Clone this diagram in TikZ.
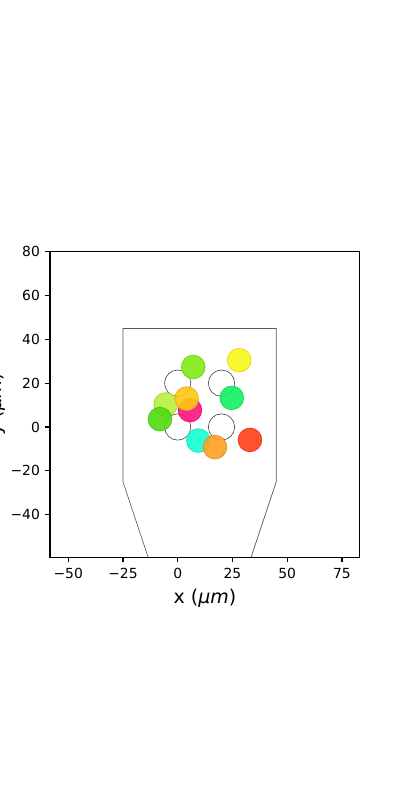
\documentclass[tikz,border=0pt]{standalone}
\usepackage{fontspec}
\setmainfont{DejaVu Sans}
\usetikzlibrary{positioning}

\definecolor{chartr}{HTML}{80EC14}
\definecolor{lemon}{HTML}{F8F81C}
\definecolor{spring}{HTML}{14F064}
\definecolor{lime}{HTML}{B8F040}
\definecolor{gold}{HTML}{FFC814}
\definecolor{rose}{HTML}{FF1480}
\definecolor{leaf}{HTML}{50DC10}
\definecolor{aqua}{HTML}{14FFD4}
\definecolor{amber}{HTML}{FFA020}
\definecolor{flame}{HTML}{FF4018}

\begin{document}
\begin{tikzpicture}[x=1pt, y=1pt,
	ticklbl/.style={font=\fontsize{13.9}{16}\selectfont, inner sep=0pt},
	axlbl/.style={font=\fontsize{19}{22}\selectfont, inner sep=0pt},
	spot/.style={circle, inner sep=0pt, minimum size=23.6pt, fill=#1, draw=#1!90!black, fill opacity=0.9, draw opacity=0.9, line width=0.9pt},
	hole/.style={circle, inner sep=0pt, minimum size=26.3pt, draw=black!75, line width=0.6pt}]
	\useasboundingbox (0,0) rectangle (400,800);
	\begin{scope}[xshift=177.7pt, yshift=373pt, x=2.19pt, y=2.19pt]
		\coordinate (ll) at (-58.3,-59.4);
		\coordinate (ur) at (83.2,80);
		% chamber outline
		\begin{scope}
			\clip (ll) rectangle (ur);
			\draw[black!65, line width=0.7pt] (-10,-70) -- (-25,-25) -- (-25,45) -- (45,45) -- (45,-25) -- (30,-70);
		\end{scope}
		% empty sites
		\node[hole] (h1) at (0,0) {};
		\node[hole] (h2) at (0,20) {};
		\node[hole] (h3) at (20,20) {};
		\node[hole] (h4) at (20,0) {};
		% particles
		\node[spot=lime] (c4) at (-5.5,10.3) {};
		\node[spot=leaf] (c7) at (-8.1,3.6) {};
		\node[spot=rose] (c6) at (5.6,7.7) {};
		\node[spot=gold] (c5) at (4.1,13.0) {};
		\node[spot=chartr] (c1) at (7.1,27.4) {};
		\node[spot=lemon] (c2) at (28.1,30.5) {};
		\node[spot=spring] (c3) at (24.7,13.3) {};
		\node[spot=aqua] (c8) at (9.4,-6.2) {};
		\node[spot=amber] (c9) at (17.0,-9.2) {};
		\node[spot=flame] (c10) at (33.0,-5.9) {};
		% axes
		\draw[line width=1.1pt] (ll) rectangle (ur);
		\foreach \v/\t in {-50/−50, -25/−25, 0/0, 25/25, 50/50, 75/75} {
			\draw[line width=1.1pt] (\v,-59.4) -- ++(0,-4.9pt) coordinate (xt\v);
			\node[ticklbl, anchor=north] (xl\v) at ([yshift=-6pt]xt\v) {\t};
		}
		\foreach \v/\t in {-40/−40, -20/−20, 0/0, 20/20, 40/40, 60/60, 80/80} {
			\draw[line width=1.1pt] (-58.3,\v) -- ++(-4.9pt,0) coordinate (yt\v);
			\node[ticklbl, anchor=east] (yl\v) at ([xshift=-5pt]yt\v) {\t};
		}
	\end{scope}
	\node[axlbl, anchor=base] (xlab) at (205,196) {x (\textit{μm})};
	\node[axlbl, rotate=90, anchor=base] (ylab) at (1.5,396) {y (\textit{μm})};
\end{tikzpicture}
\end{document}
